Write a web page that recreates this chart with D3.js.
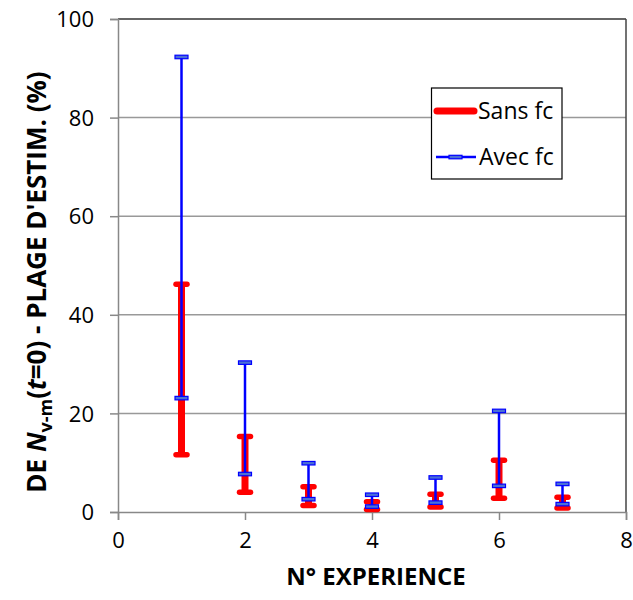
<!DOCTYPE html>
<html><head><meta charset="utf-8">
<script src="https://cdn.jsdelivr.net/npm/d3@7"></script>
<style>body{margin:0;background:#fff}svg{display:block}text{font-family:"Open Sans",Lato,sans-serif}</style>
</head><body>
<svg id="c" width="633" height="600"></svg>
<script>
const experiences = [1, 2, 3, 4, 5, 6, 7];
const sansLow  = [11.6, 4.0, 1.3, 0.5, 1.0, 2.8, 0.8];
const sansHigh = [46.2, 15.3, 5.1, 2.1, 3.6, 10.5, 3.0];
const avecLow  = [23.1, 7.7, 2.6, 1.1, 1.9, 5.3, 1.6];
const avecHigh = [92.3, 30.3, 9.9, 3.5, 7.0, 20.5, 5.7];
const xTicks = [0, 2, 4, 6, 8];
const yTicks = [0, 20, 40, 60, 80, 100];

const FONT = "'Open Sans', Lato, sans-serif";
const svg = d3.select("#c");
const L = 118, R = 626, T = 19, B = 512;
const x = d3.scaleLinear().domain([0, 8]).range([L, R]);
const y = d3.scaleLinear().domain([0, 100]).range([B, T]);

// gridlines
svg.append("g").selectAll("line").data(yTicks.filter(d => d > 0 && d < 100)).join("line")
  .attr("x1", L).attr("x2", R).attr("y1", d => y(d)).attr("y2", d => y(d))
  .attr("stroke", "#999").attr("stroke-width", 1.5);

// frame top/right
svg.append("line").attr("x1", L).attr("x2", R).attr("y1", T).attr("y2", T).attr("stroke", "#333").attr("stroke-width", 1.5);
svg.append("line").attr("x1", R).attr("x2", R).attr("y1", T).attr("y2", B).attr("stroke", "#444").attr("stroke-width", 1.5);

// axes
const xAxis = svg.append("g").attr("transform", `translate(0,${B})`)
  .call(d3.axisBottom(x).tickValues(xTicks).tickSize(8).tickPadding(12).tickFormat(d3.format("d")));
const yAxis = svg.append("g").attr("transform", `translate(${L},0)`)
  .call(d3.axisLeft(y).tickValues(yTicks).tickSize(8).tickPadding(16).tickFormat(d3.format("d")));
[xAxis, yAxis].forEach(a => {
  a.select(".domain").attr("stroke", "#888").attr("stroke-width", 1.5);
  a.selectAll(".tick line").attr("stroke", "#888").attr("stroke-width", 1.5);
  a.selectAll(".tick text").attr("font-size", 22).attr("fill", "#000").attr("font-family", FONT);
});
yAxis.selectAll(".tick text").attr("dy", "0.35em");

// red error bars (Sans fc)
const red = svg.append("g");
experiences.forEach((e, i) => {
  const cx = x(e);
  red.append("line").attr("x1", cx).attr("x2", cx).attr("y1", y(sansLow[i])).attr("y2", y(sansHigh[i]))
    .attr("stroke", "red").attr("stroke-width", 7);
  [sansLow[i], sansHigh[i]].forEach(v => {
    red.append("line").attr("x1", cx - 5.5).attr("x2", cx + 5.5).attr("y1", y(v)).attr("y2", y(v))
      .attr("stroke", "red").attr("stroke-width", 5.5).attr("stroke-linecap", "round");
  });
});

// blue error bars (Avec fc)
const blue = svg.append("g");
experiences.forEach((e, i) => {
  const cx = x(e);
  blue.append("line").attr("x1", cx).attr("x2", cx).attr("y1", y(avecLow[i])).attr("y2", y(avecHigh[i]))
    .attr("stroke", "#0000ff").attr("stroke-width", 2.5);
  [avecLow[i], avecHigh[i]].forEach(v => {
    blue.append("rect").attr("x", cx - 6.5).attr("y", y(v) - 1.75).attr("width", 13).attr("height", 3.5)
      .attr("fill", "#4a6fd6").attr("stroke", "#0000ff").attr("stroke-width", 1.2);
  });
});

// legend
const lg = svg.append("g");
lg.append("rect").attr("x", 431.5).attr("y", 88).attr("width", 130.5).attr("height", 91)
  .attr("fill", "#fff").attr("stroke", "#000").attr("stroke-width", 1.2);
lg.append("line").attr("x1", 437).attr("x2", 474).attr("y1", 111).attr("y2", 111)
  .attr("stroke", "red").attr("stroke-width", 7).attr("stroke-linecap", "round");
lg.append("text").attr("x", 478).attr("y", 119).attr("font-size", 23).text("Sans fc");
lg.append("line").attr("x1", 436).attr("x2", 476).attr("y1", 157).attr("y2", 157)
  .attr("stroke", "#0000ff").attr("stroke-width", 2.5);
lg.append("rect").attr("x", 449).attr("y", 155.3).attr("width", 13).attr("height", 3.5)
  .attr("fill", "#4a6fd6").attr("stroke", "#0000ff").attr("stroke-width", 1.2);
lg.append("text").attr("x", 479).attr("y", 165).attr("font-size", 23).text("Avec fc");

// axis titles
svg.append("text").attr("x", 376).attr("y", 585).attr("text-anchor", "middle")
  .attr("font-size", 24).attr("font-weight", "bold").text("N° EXPERIENCE");

const yt = svg.append("text").attr("transform", "translate(46,282) rotate(-90)")
  .attr("text-anchor", "middle").attr("font-size", 26).attr("font-weight", "bold");
yt.append("tspan").text("DE ");
yt.append("tspan").attr("font-style", "italic").text("N");
yt.append("tspan").attr("font-size", 18).attr("dy", 6).text("v-m");
yt.append("tspan").attr("dy", -6).text("(");
yt.append("tspan").attr("font-style", "italic").text("t");
yt.append("tspan").text("=0) - PLAGE D'ESTIM. (%)");
</script>
</body></html>
